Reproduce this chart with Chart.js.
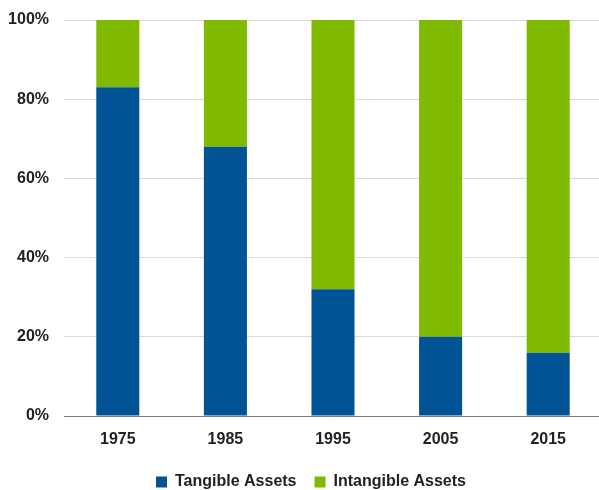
<!DOCTYPE html>
<html>
<head>
<meta charset="utf-8">
<script src="https://cdn.jsdelivr.net/npm/chart.js@4.4.1/dist/chart.umd.min.js"></script>
<style>
  html, body { margin: 0; padding: 0; background: #ffffff; overflow: hidden; }
  #wrap { position: relative; width: 603px; height: 490px; }
</style>
</head>
<body>
<div id="wrap"><canvas id="chart"></canvas></div>
<script>
// Share of corporate assets by type (percent of total)
const years = ['1975', '1985', '1995', '2005', '2015'];
const tangibleAssets = [83, 68, 32, 20, 16];
const intangibleAssets = [17, 32, 68, 80, 84];
const yTicks = [0, 20, 40, 60, 80, 100];

const labelFont = { family: '"Liberation Sans", Arial, sans-serif', size: 16, weight: 'bold' };

// Nudge the bottom legend a little to the right of the canvas centre
const legendShift = {
  id: 'legendShift',
  afterLayout(chart) {
    if (chart.legend) {
      chart.legend.left += 7;
      chart.legend.right += 7;
    }
  }
};

new Chart(document.getElementById('chart'), {
  type: 'bar',
  data: {
    labels: years,
    datasets: [
      {
        label: 'Tangible Assets',
        data: tangibleAssets,
        backgroundColor: '#005496',
        barPercentage: 0.4,
        categoryPercentage: 1.0
      },
      {
        label: 'Intangible Assets',
        data: intangibleAssets,
        backgroundColor: '#80BA00',
        barPercentage: 0.4,
        categoryPercentage: 1.0
      }
    ]
  },
  plugins: [legendShift],
  options: {
    responsive: true,
    maintainAspectRatio: false,
    animation: false,
    layout: { padding: { left: 6, right: 1, top: 20, bottom: -10 } },
    plugins: {
      tooltip: { enabled: false },
      legend: {
        position: 'bottom',
        labels: {
          font: labelFont,
          color: '#222222',
          boxWidth: 11,
          boxHeight: 11,
          padding: 18
        }
      }
    },
    scales: {
      x: {
        stacked: true,
        afterFit: (scale) => { scale.height = 40; },
        grid: { display: false, drawTicks: false },
        border: { display: true, color: '#7a7a7a', width: 1 },
        ticks: { font: labelFont, color: '#222222', padding: 14 }
      },
      y: {
        stacked: true,
        min: 0,
        max: 100,
        afterBuildTicks: (scale) => { scale.ticks = yTicks.map(v => ({ value: v })); },
        afterFit: (scale) => {
          scale.width = 58;
          scale.paddingTop = 0;
          scale.paddingBottom = 0;
        },
        grid: { color: '#d9d9d9', lineWidth: 1, drawTicks: false },
        border: { display: false },
        ticks: {
          font: labelFont,
          color: '#222222',
          padding: 15,
          callback: (v) => v + '%'
        }
      }
    }
  }
});
</script>
</body>
</html>
